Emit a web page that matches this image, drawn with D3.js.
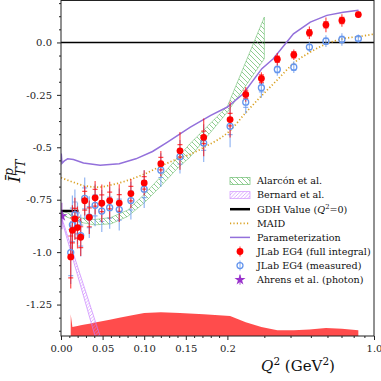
<!DOCTYPE html>
<html>
<head>
<meta charset="utf-8">
<script src="https://cdn.jsdelivr.net/npm/d3@7"></script>
<style>
body { margin: 0; background: #fff; }
svg { display: block; font-family: "DejaVu Serif", serif; }
</style>
</head>
<body>
<div class="chart"></div>
<script>
// Q^2 bins of the EG4 points (GeV^2)
var qBins = [0.0117, 0.0137, 0.0167, 0.0198, 0.0237, 0.0285, 0.034, 0.041, 0.049, 0.0585, 0.07, 0.084, 0.1, 0.12, 0.143, 0.1715, 0.206, 0.2446, 0.2905, 0.346, 0.4146, 0.492, 0.59, 0.703, 0.842];

var fullVals = [-1.023, -0.896, -0.841, -0.883, -0.929, -0.755, -0.834, -0.741, -0.767, -0.754, -0.766, -0.721, -0.670, -0.578, -0.517, -0.453, -0.368, -0.248, -0.172, -0.080, -0.059, 0.046, 0.084, 0.105, 0.133];
var fullStat = [0.1, 0.06, 0.05, 0.05, 0.05, 0.045, 0.045, 0.04, 0.04, 0.04, 0.04, 0.035, 0.03, 0.03, 0.03, 0.03, 0.03, 0.02, 0.018, 0.015, 0.015, 0.015, 0.015, 0.015, 0.01];
var fullTot = [0.15, 0.12, 0.1, 0.1, 0.09, 0.07, 0.08, 0.08, 0.09, 0.09, 0.09, 0.07, 0.06, 0.06, 0.09, 0.09, 0.085, 0.035, 0.03, 0.03, 0.025, 0.03, 0.035, 0.03, 0.015];

var measVals = [-1.002, -0.870, -0.821, -0.863, -0.921, -0.744, -0.833, -0.777, -0.804, -0.788, -0.797, -0.754, -0.700, -0.609, -0.545, -0.480, -0.400, -0.285, -0.216, -0.129, -0.118, -0.022, 0.006, 0.014, 0.018];
var measStat = [0.11, 0.08, 0.06, 0.05, 0.05, 0.05, 0.05, 0.05, 0.05, 0.05, 0.05, 0.045, 0.04, 0.035, 0.035, 0.035, 0.04, 0.025, 0.02, 0.015, 0.015, 0.012, 0.015, 0.015, 0.01];
var measTot = [0.15, 0.14, 0.12, 0.1, 0.1, 0.1, 0.1, 0.1, 0.1, 0.1, 0.1, 0.09, 0.09, 0.08, 0.08, 0.09, 0.1, 0.055, 0.048, 0.03, 0.028, 0.024, 0.028, 0.03, 0.02];

// systematic band (top edge, drawn from the bottom of the axes)
var sysTop = [-1.296, -1.357, -1.355, -1.352, -1.349, -1.345, -1.341, -1.336, -1.33, -1.322, -1.313, -1.302, -1.29, -1.287, -1.29, -1.296, -1.305, -1.335, -1.357, -1.372, -1.373, -1.369, -1.362, -1.365, -1.373];

var paramQ = [0.0003, 0.0012, 0.004, 0.008, 0.015, 0.027, 0.047, 0.07, 0.09, 0.11, 0.128, 0.155, 0.18, 0.2, 0.238, 0.292, 0.331, 0.413, 0.497, 0.596, 0.714, 0.844];
var paramV = [-0.53, -0.576, -0.565, -0.555, -0.558, -0.575, -0.586, -0.578, -0.555, -0.52, -0.475, -0.405, -0.348, -0.308, -0.245, -0.125, -0.078, 0.041, 0.097, 0.129, 0.144, 0.153];

var maidQ = [0, 0.015, 0.03, 0.045, 0.06, 0.08, 0.1, 0.12, 0.14, 0.155, 0.172, 0.206, 0.247, 0.292, 0.344, 0.413, 0.497, 0.596, 0.714, 0.86, 1.0];
var maidV = [-0.645, -0.667, -0.685, -0.69, -0.68, -0.658, -0.628, -0.59, -0.555, -0.534, -0.5, -0.42, -0.33, -0.253, -0.181, -0.1, -0.046, -0.006, 0.018, 0.029, 0.04];

var alarconQ = [0, 0.02, 0.04, 0.06, 0.08, 0.1, 0.12, 0.14, 0.155, 0.2, 0.3];
var alarconLo = [-0.82, -0.855, -0.87, -0.865, -0.83, -0.765, -0.685, -0.6, -0.547, -0.332, -0.078];
var alarconHi = [-0.80, -0.835, -0.845, -0.835, -0.8, -0.725, -0.64, -0.55, -0.483, -0.305, 0.121];

var bernardQ = [0, 0.06];
var bernardLo = [-0.835, -1.665];
var bernardHi = [-0.825, -1.56];

var gdhQ = [0, 0.021];
var gdhValue = -0.804;

var ahrensQ = 0.001, ahrensV = -0.828, ahrensErr = 0.063;

var xTicksLin = [0, 0.05, 0.1, 0.15];
var xTicksLog = [0.2, 1.0];
var xMinorLin = [0.01, 0.02, 0.03, 0.04, 0.06, 0.07, 0.08, 0.09, 0.11, 0.12, 0.13, 0.14, 0.16, 0.17, 0.18, 0.19];
var xMinorLog = [0.3, 0.4, 0.5, 0.6, 0.7, 0.8, 0.9];
var yTicks = [-1.25, -1.0, -0.75, -0.5, -0.25, 0.0];
var yTickLabels = ["-1.25", "-1.0", "-0.75", "-0.5", "-0.25", "0.0"];
var yMinor = [-1.375, -1.3125, -1.1875, -1.125, -1.0625, -0.9375, -0.875, -0.8125, -0.6875, -0.625, -0.5625, -0.4375, -0.375, -0.3125, -0.1875, -0.125, -0.0625, 0.0625, 0.125, 0.1875];

var legendLabels = ["Alarcón et al.", "Bernard et al.", "GDH Value (Q²=0)", "MAID", "Parameterization", "JLab EG4 (full integral)", "JLab EG4 (measured)", "Ahrens et al. (photon)"];

var chartWidth = 381, chartHeight = 381;
var plotL = 61, plotR = 374, plotT = 0.5, plotB = 336, xBreak = 227.4;

var xLin = d3.scaleLinear().domain([0, 0.2]).range([plotL, xBreak]);
var xLog = d3.scaleLog().domain([0.2, 1]).range([xBreak, plotR]);
function x(q) { return q <= 0.2 ? xLin(q) : xLog(q); }
var y = d3.scaleLinear().domain([-1.4, 0.2]).range([plotB, plotT]);

var red = "#ff0000", blue = "#6495ed", purple = "#9370db", gold = "#d9a020", green = "#4caf50", violet = "#c77dff", star = "#9932cc";

var svg = d3.select(".chart").append("svg").attr("width", chartWidth).attr("height", chartHeight);
var defs = svg.append("defs");
defs.append("clipPath").attr("id", "clip").append("rect")
  .attr("x", plotL).attr("y", plotT).attr("width", plotR - plotL).attr("height", plotB - plotT);

var hg = defs.append("pattern").attr("id", "hatchG").attr("patternUnits", "userSpaceOnUse").attr("width", 5).attr("height", 5);
hg.append("path").attr("d", "M-1,-1L6,6M-1,4L1,6M4,-1L6,1").attr("stroke", green).attr("stroke-opacity", 0.7).attr("stroke-width", 0.9);
var hb = defs.append("pattern").attr("id", "hatchB").attr("patternUnits", "userSpaceOnUse").attr("width", 3.5).attr("height", 3.5);
hb.append("path").attr("d", "M-1,4.5L4.5,-1M-1,1L1,-1M2.5,4.5L4.5,2.5").attr("stroke", violet).attr("stroke-opacity", 0.8).attr("stroke-width", 0.8);

var plot = svg.append("g").attr("clip-path", "url(#clip)");

// systematic band
var idx = d3.range(qBins.length);
plot.append("path")
  .datum(idx)
  .attr("d", d3.area().x(function(i) { return x(qBins[i]); }).y0(y(-1.4)).y1(function(i) { return y(sysTop[i]); }))
  .attr("fill", red).attr("fill-opacity", 0.7);

// zero line
plot.append("line").attr("x1", plotL).attr("x2", plotR).attr("y1", y(0)).attr("y2", y(0))
  .attr("stroke", "#000").attr("stroke-width", 1.5);

// Alarcon band
plot.append("path")
  .datum(d3.range(alarconQ.length))
  .attr("d", d3.area().x(function(i) { return x(alarconQ[i]); }).y0(function(i) { return y(alarconLo[i]); }).y1(function(i) { return y(alarconHi[i]); }))
  .attr("fill", "url(#hatchG)").attr("stroke", green).attr("stroke-opacity", 0.6).attr("stroke-width", 0.8);

// Bernard band
plot.append("path")
  .datum(d3.range(bernardQ.length))
  .attr("d", d3.area().x(function(i) { return x(bernardQ[i]); }).y0(function(i) { return y(bernardLo[i]); }).y1(function(i) { return y(bernardHi[i]); }))
  .attr("fill", "url(#hatchB)").attr("stroke", violet).attr("stroke-opacity", 0.8).attr("stroke-width", 0.8);

// MAID
plot.append("path")
  .datum(d3.range(maidQ.length))
  .attr("d", d3.line().x(function(i) { return x(maidQ[i]); }).y(function(i) { return y(maidV[i]); }).curve(d3.curveMonotoneX))
  .attr("fill", "none").attr("stroke", gold).attr("stroke-width", 1.7).attr("stroke-dasharray", "1.2,2.2");

// Parameterization
plot.append("path")
  .datum(d3.range(paramQ.length))
  .attr("d", d3.line().x(function(i) { return x(paramQ[i]); }).y(function(i) { return y(paramV[i]); }))
  .attr("fill", "none").attr("stroke", purple).attr("stroke-width", 1.5);

// GDH value
plot.append("line").attr("x1", x(gdhQ[0])).attr("x2", x(gdhQ[1])).attr("y1", y(gdhValue)).attr("y2", y(gdhValue))
  .attr("stroke", "#000").attr("stroke-width", 2.5);

// error bars
function errorBars(vals, stat, tot, color) {
  var g = plot.append("g").attr("stroke", color).attr("stroke-opacity", 0.7).attr("stroke-width", 1.2);
  g.selectAll("line").data(idx).enter().append("line")
    .attr("x1", function(i) { return x(qBins[i]); }).attr("x2", function(i) { return x(qBins[i]); })
    .attr("y1", function(i) { return y(vals[i] - tot[i]); }).attr("y2", function(i) { return y(vals[i] + tot[i]); });
  g.selectAll("path").data(idx).enter().append("path")
    .attr("d", function(i) {
      var px = x(qBins[i]), lo = y(vals[i] - stat[i]), hi = y(vals[i] + stat[i]);
      return "M" + (px - 2.5) + "," + lo + "H" + (px + 2.5) + "M" + (px - 2.5) + "," + hi + "H" + (px + 2.5);
    });
}
errorBars(measVals, measStat, measTot, blue);
errorBars(fullVals, fullStat, fullTot, red);

plot.append("g").selectAll("circle").data(idx).enter().append("circle")
  .attr("cx", function(i) { return x(qBins[i]); }).attr("cy", function(i) { return y(measVals[i]); })
  .attr("r", 3).attr("fill", "none").attr("stroke", blue).attr("stroke-width", 1.3);
plot.append("g").selectAll("circle").data(idx).enter().append("circle")
  .attr("cx", function(i) { return x(qBins[i]); }).attr("cy", function(i) { return y(fullVals[i]); })
  .attr("r", 3.4).attr("fill", red);

// Ahrens
plot.append("line").attr("x1", x(ahrensQ)).attr("x2", x(ahrensQ))
  .attr("y1", y(ahrensV - ahrensErr)).attr("y2", y(ahrensV + ahrensErr))
  .attr("stroke", star).attr("stroke-opacity", 0.7).attr("stroke-width", 1.2);
plot.append("path").attr("d", d3.symbol().type(d3.symbolStar).size(38)())
  .attr("transform", "translate(" + x(ahrensQ) + "," + y(ahrensV) + ")").attr("fill", star);

// axes
var axes = svg.append("g").style("font-family", "DejaVu Serif").style("font-size", "9.7px");
var gx = axes.append("g").attr("transform", "translate(0," + plotB + ")");
gx.append("g").call(d3.axisBottom(xLin).tickValues(xTicksLin).tickFormat(d3.format(".2f")).tickSize(4).tickPadding(5));
gx.append("g").call(d3.axisBottom(xLog).tickValues(xTicksLog).tickFormat(d3.format(".1f")).tickSize(4).tickPadding(5));
gx.append("g").call(d3.axisBottom(xLin).tickValues(xMinorLin).tickFormat("").tickSize(2));
gx.append("g").call(d3.axisBottom(xLog).tickValues(xMinorLog).tickFormat("").tickSize(2));
var gy = axes.append("g").attr("transform", "translate(" + plotL + ",0)");
gy.append("g").call(d3.axisLeft(y).tickValues(yTicks).tickFormat(function(d, i) { return yTickLabels[i]; }).tickSize(4).tickPadding(5));
gy.append("g").call(d3.axisLeft(y).tickValues(yMinor).tickFormat("").tickSize(2));
axes.selectAll(".domain").remove();
axes.selectAll("text").attr("fill", "#222").style("font-family", "DejaVu Serif");
axes.selectAll("line").attr("stroke", "#222");

svg.append("rect").attr("x", plotL).attr("y", plotT).attr("width", plotR - plotL).attr("height", plotB - plotT)
  .attr("fill", "none").attr("stroke", "#222").attr("stroke-width", 1);

// axis labels
var xl = svg.append("text").attr("x", 298).attr("y", 371).attr("text-anchor", "middle").style("font-size", "15px").attr("fill", "#111");
xl.append("tspan").style("font-style", "italic").text("Q");
xl.append("tspan").attr("dy", -6).style("font-size", "10.5px").text("2");
xl.append("tspan").attr("dy", 6).text(" (GeV");
xl.append("tspan").attr("dy", -6).style("font-size", "10.5px").text("2");
xl.append("tspan").attr("dy", 6).text(")");

var yl = svg.append("text").attr("transform", "translate(20,150) rotate(-90)").attr("text-anchor", "start").style("font-size", "17px").attr("fill", "#111");
yl.append("tspan").style("font-style", "italic").text("Ī");
var tt = yl.append("tspan").attr("dy", 4.5).style("font-size", "12px").style("font-style", "italic").text("TT");
var ttw = tt.node().getComputedTextLength();
yl.append("tspan").attr("dx", -ttw).attr("dy", -11.5).style("font-size", "12px").style("font-style", "italic").text("p");
var bb = yl.node().getBBox();
yl.attr("transform", "translate(20," + (170 + bb.width / 2) + ") rotate(-90)");

// legend
var lg = svg.append("g").attr("transform", "translate(230,181)").style("font-size", "9.6px");
var step = 14.1;
legendLabels.forEach(function(lab, i) {
  var yy = i * step;
  if (i === 0 || i === 1) {
    lg.append("rect").attr("x", 0).attr("y", yy - 3.5).attr("width", 20).attr("height", 7)
      .attr("fill", i === 0 ? "url(#hatchG)" : "url(#hatchB)")
      .attr("stroke", i === 0 ? green : violet).attr("stroke-opacity", 0.7).attr("stroke-width", 0.8);
  } else if (i === 2) {
    lg.append("line").attr("x1", 0).attr("x2", 20).attr("y1", yy).attr("y2", yy).attr("stroke", "#000").attr("stroke-width", 2.5);
  } else if (i === 3) {
    lg.append("line").attr("x1", 0).attr("x2", 20).attr("y1", yy).attr("y2", yy).attr("stroke", gold).attr("stroke-width", 1.7).attr("stroke-dasharray", "1.2,2.2");
  } else if (i === 4) {
    lg.append("line").attr("x1", 0).attr("x2", 20).attr("y1", yy).attr("y2", yy).attr("stroke", purple).attr("stroke-width", 1.5);
  } else {
    var c = i === 5 ? red : (i === 6 ? blue : star);
    lg.append("line").attr("x1", 10).attr("x2", 10).attr("y1", yy - 5).attr("y2", yy + 5)
      .attr("stroke", c).attr("stroke-opacity", 0.7).attr("stroke-width", 1.2);
    if (i === 5) lg.append("circle").attr("cx", 10).attr("cy", yy).attr("r", 3.4).attr("fill", red);
    if (i === 6) lg.append("circle").attr("cx", 10).attr("cy", yy).attr("r", 3).attr("fill", "none").attr("stroke", blue).attr("stroke-width", 1.3);
    if (i === 7) lg.append("path").attr("d", d3.symbol().type(d3.symbolStar).size(38)()).attr("transform", "translate(10," + yy + ")").attr("fill", star);
  }
  var t = lg.append("text").attr("x", 27).attr("y", yy + 3.3).attr("fill", "#111");
  if (i === 2) {
    t.append("tspan").text("GDH Value (");
    t.append("tspan").style("font-style", "italic").text("Q");
    t.append("tspan").attr("dy", -3.5).style("font-size", "6.8px").text("2");
    t.append("tspan").attr("dy", 3.5).text("=0)");
  } else {
    t.text(lab);
  }
});
</script>
</body>
</html>
